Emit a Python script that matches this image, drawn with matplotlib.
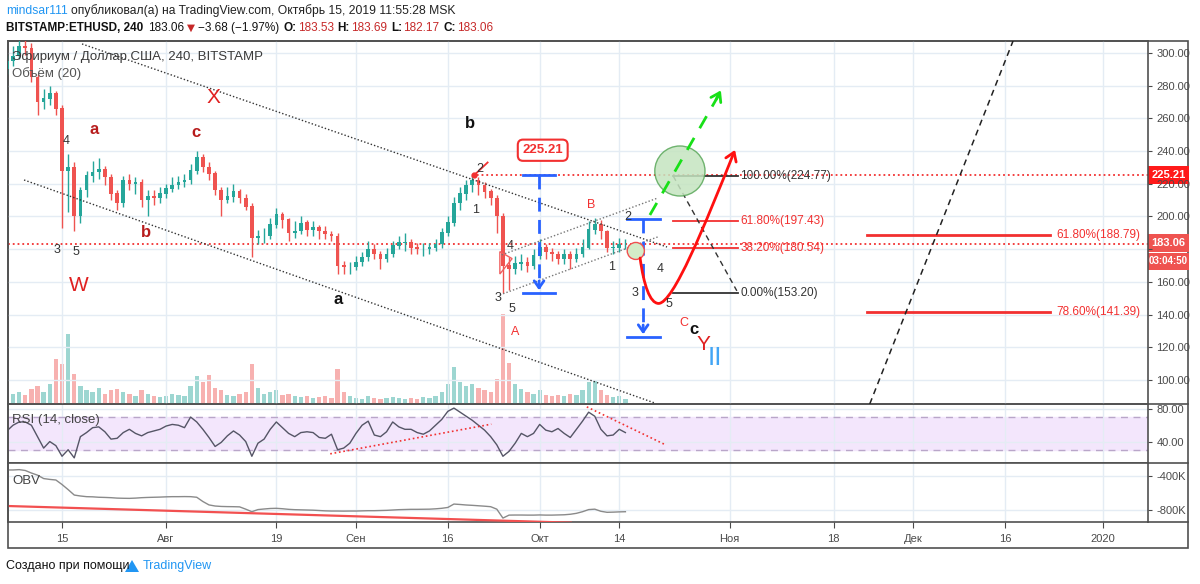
import numpy as np
import pandas as pd
import matplotlib
matplotlib.use('Agg')
import matplotlib.pyplot as plt
from matplotlib.patches import Ellipse, Rectangle, Polygon, FancyArrowPatch
from matplotlib.path import Path
from matplotlib.lines import Line2D

plt.rcParams['font.family'] = ['Liberation Sans', 'DejaVu Sans']

# ---- data (daily values) ----
ref_day = pd.Timestamp('2019-07-15')
first_day = pd.Timestamp('2019-07-06')
first_open = 290

closes = [295, 298, 304, 303, 285, 270, 272, 275, 266,
          228, 230, 200, 216, 225, 227, 229, 224, 214, 208,
          222, 220, 221, 210, 212, 211, 214, 217, 219, 221,
          222, 228, 236, 230, 226, 216, 210, 212, 215, 211,
          206, 187, 188, 188, 195, 201, 198, 190, 191, 196,
          192, 193, 191, 189, 188, 170, 169, 169, 172, 175,
          180, 177, 174, 177, 182, 184, 184, 181, 180, 180,
          181, 183, 190, 196, 208, 214, 219, 222, 219, 215,
          211, 200, 170, 168, 171, 172, 170, 176, 181, 178,
          177, 174, 177, 174, 177, 181, 192, 195, 191, 181,
          181, 183, 183.06]
highs = [299, 304, 310, 309, 306, 287, 278, 280, 277,
         268, 238, 233, 218, 228, 234, 236, 231, 226, 216,
         225, 226, 224, 223, 216, 216, 218, 220, 224, 225,
         226, 232, 240, 238, 233, 228, 218, 218, 220, 217,
         214, 208, 192, 193, 199, 205, 203, 199, 197, 200,
         198, 197, 195, 194, 191, 190, 173, 172, 176, 178,
         185, 183, 179, 181, 185, 188, 190, 186, 184, 184,
         184, 186, 193, 200, 212, 218, 222, 225.21, 224, 221,
         217, 213, 202, 175, 176, 177, 175, 180, 186, 183,
         181, 179, 180, 179, 181, 186, 197, 199, 198, 192,
         185, 187, 186]
lows = [287, 292, 296, 299, 282, 262, 266, 268, 262,
        193, 203, 191, 196, 212, 221, 223, 219, 210, 204,
        206, 216, 214, 206, 200, 207, 208, 211, 215, 217,
        218, 220, 226, 227, 222, 213, 200, 208, 209, 208,
        204, 175, 183, 184, 186, 193, 193, 185, 187, 189,
        188, 188, 186, 186, 185, 165, 165, 165, 167, 170,
        173, 174, 168, 172, 175, 180, 179, 177, 177, 176,
        177, 179, 181, 188, 194, 204, 210, 215, 213, 211,
        207, 190, 153, 155, 165, 167, 166, 168, 174, 174,
        173, 171, 171, 168, 172, 175, 180, 189, 186, 178,
        177, 178, 180]
volumes = [8, 10, 12, 9, 15, 18, 12, 20, 45,
           40, 70, 30, 18, 14, 12, 16, 10, 14, 15,
           12, 10, 8, 14, 10, 8, 7, 8, 10, 9,
           8, 18, 28, 22, 29, 16, 14, 9, 8, 10,
           12, 40, 16, 10, 12, 14, 9, 10, 8, 7,
           8, 6, 7, 8, 6, 35, 12, 8, 6, 5,
           8, 6, 5, 6, 7, 6, 5, 6, 5, 7,
           6, 8, 12, 20, 37, 22, 18, 20, 16, 14,
           12, 25, 90, 41, 20, 15, 12, 10, 14, 9,
           8, 9, 8, 10, 9, 14, 22, 24, 14, 9,
           7, 8, 5]
rsi = [53, 60, 64, 64, 60, 46, 32, 40, 35,
       22, 30, 20, 46, 51, 57, 58, 52, 43, 44,
       51, 55, 50, 47, 51, 53, 55, 59, 61, 60,
       57, 70, 64, 55, 45, 34, 39, 47, 53, 48,
       40, 22, 38, 43, 55, 64, 57, 50, 46, 51,
       52, 51, 45, 44, 49, 30, 32, 38, 50, 60,
       65, 48, 46, 52, 64, 58, 55, 55, 51, 49,
       53, 60, 67, 77, 81, 76, 71, 66, 60, 54,
       46, 36, 22, 28, 38, 50, 46, 50, 61, 54,
       52, 56, 50, 45, 55, 65, 76, 71, 55, 47,
       48, 55, 51]
obv = [-329, -329, -325, -335, -365, -390, -430, -440, -447,
       -500, -560, -624, -635, -643, -645, -650, -652, -655, -660,
       -662, -663, -660, -655, -652, -650, -648, -645, -643, -643,
       -642, -643, -650, -700, -740, -753, -758, -760, -761, -763,
       -790, -820, -795, -788, -782, -780, -785, -792, -796, -798,
       -800, -802, -806, -810, -812, -812, -813, -812, -812, -810,
       -808, -808, -806, -804, -800, -796, -794, -792, -792, -791,
       -790, -786, -780, -770, -730, -735, -741, -745, -750, -755,
       -761, -790, -895, -860, -859, -859, -860, -860, -858, -860,
       -860, -858, -856, -850, -839, -820, -795, -790, -815, -827,
       -825, -822, -820]

tick_dates = ['2019-07-15', '2019-08-01', '2019-08-19', '2019-09-01', '2019-09-16',
              '2019-10-01', '2019-10-14', '2019-11-01', '2019-11-18', '2019-12-01',
              '2019-12-16', '2020-01-01']
tick_labels = ['15', 'Авг', '19', 'Сен', '16', 'Окт', '14', 'Ноя', '18', 'Дек', '16', '2020']
price_ticks = [100, 120, 140, 160, 180, 200, 220, 240, 260, 280, 300]

last_price = 183.06
resist_price = 225.21
fib1_levels = [(224.77, '100.00%(224.77)', '#333333'), (197.43, '61.80%(197.43)', '#f23030'),
               (180.54, '38.20%(180.54)', '#f23030'), (153.20, '0.00%(153.20)', '#333333')]
fib2_levels = [(188.79, '61.80%(188.79)'), (141.39, '78.60%(141.39)')]

# ---- derived ----
offset = (first_day - ref_day).days
days = np.arange(len(closes)) + offset
opens = [first_open] + closes[:-1]
tick_pos = [(pd.Timestamp(t) - ref_day).days for t in tick_dates]

W, H = 1200, 584


def box(x0, y0, x1, y1):
    return [x0 / W, 1 - y1 / H, (x1 - x0) / W, (y1 - y0) / H]


def fx(x):
    return x / W


def fy(y):
    return 1 - y / H


fig = plt.figure(figsize=(12, 5.84), dpi=100)
fig.patch.set_facecolor('white')

ax = fig.add_axes(box(8, 41, 1148, 404))
ax_rsi = fig.add_axes(box(8, 404, 1148, 463), sharex=ax)
ax_obv = fig.add_axes(box(8, 463, 1148, 522), sharex=ax)

# volume pane behind the candles (twin made first, twinx moves ticks left)
ax_v = ax.twinx()

grid_c = '#e4ecf4'
frame_c = '#505050'
lab_c = '#4a4a4a'

ax.set_xlim(-8.82, 177.34)
ax.set_ylim(85.3, 307.3)
ax_rsi.set_ylim(13.75, 86.0)
ax_obv.set_ylim(-941, -247)

for a in (ax, ax_rsi, ax_obv):
    a.set_xticks(tick_pos)
    a.grid(True, color=grid_c, lw=1)
    a.set_axisbelow(True)
    for s in a.spines.values():
        s.set_color(frame_c)
        s.set_linewidth(1.2)
    a.yaxis.tick_right()
    a.yaxis.set_label_position('right')
    a.tick_params(axis='y', left=False, labelleft=False, right=True, labelright=True,
                  colors=lab_c, labelsize=8, length=3, pad=3)
    a.tick_params(axis='x', length=0, labelbottom=False)

ax.set_yticks(price_ticks)
# 180.00 sits under the last-price tag, as on the original
ax.set_yticklabels(['' if v == 180 else f'{v:.2f}' for v in price_ticks])
ax_rsi.set_yticks([40, 80])
ax_rsi.set_yticklabels(['40.00', '80.00'])
ax_obv.set_yticks([-800, -400])
ax_obv.set_yticklabels(['-800K', '-400K'])
ax_obv.tick_params(axis='x', length=4, labelbottom=True, colors=lab_c, labelsize=8, pad=5)
ax_obv.set_xticklabels(tick_labels)

ax_v.set_ylim(0, 363)
ax_v.set_yticks([])
for s in ax_v.spines.values():
    s.set_visible(False)
ax.set_zorder(ax_v.get_zorder() + 1)
ax.patch.set_visible(False)
up = np.array(closes) >= np.array(opens)
vcol = np.where(up, '#26a69a', '#ef5350')
ax_v.bar(days, volumes, width=0.7, color=vcol, alpha=0.45)

# ---- candles ----
ccol = np.where(up, '#26a69a', '#ef5350')
ax.vlines(days, lows, highs, colors=ccol, lw=1, zorder=3)
ax.bar(days, np.abs(np.array(closes) - np.array(opens)) + 0.3,
       bottom=np.minimum(opens, closes), width=0.6, color=ccol, zorder=4)

# ---- horizontal price lines ----
ax.axhline(last_price, color='#f23030', ls=':', lw=1.3, zorder=2)
ax.plot([67, 177.34], [resist_price, resist_price], color='#f23030', ls=':', lw=1.3, zorder=2)

# ---- channel / wedge lines ----
dotted = dict(color='#333333', ls=(0, (1, 1.5)), lw=1, zorder=5)
ax.plot([3.27, 98.8], [305.5, 181.3], **dotted)
ax.plot([-6.2, 96.8], [222.3, 85.9], **dotted)
wedge = dict(color='#777777', ls=(0, (1, 1.5)), lw=1, zorder=5)
ax.plot([71.8, 97.3], [176.5, 211.3], **wedge)
ax.plot([71.5, 97.3], [152.0, 187.5], **wedge)
ax.add_patch(Polygon([[71.5, 178.5], [73.5, 174.2], [71.5, 164.8]], closed=True,
                     fill=False, ec='#f06060', lw=1, zorder=5))

# ---- callout 225.21 ----
ax.plot([67.3, 69.5], [resist_price, 233.0], color='#f23030', lw=1.3, zorder=6)
ax.plot([67.3], [resist_price], 'o', color='#f23030', ms=3.5, zorder=6)
ax.annotate('225.21', xy=(78.5, 240.5), ha='center', va='center', fontsize=9.5,
            color='#f23030', fontweight='bold', zorder=7,
            bbox=dict(boxstyle='round,pad=0.35,rounding_size=0.4', fc='white', ec='#f23030', lw=1.5))

# ---- blue measure tools ----
blue = '#2962ff'
for (xa, xb, xm, top, bot) in [(75.3, 80.5, 77.9, 225.4, 153.2), (92.3, 97.6, 94.9, 198.5, 126.3)]:
    ax.plot([xa, xb], [top, top], color=blue, lw=2, zorder=6)
    ax.plot([xa, xb], [bot, bot], color=blue, lw=2, zorder=6)
    ax.plot([xm, xm], [top, bot + 3], color=blue, lw=2, ls=(0, (5, 3)), zorder=6)
    ax.annotate('', xy=(xm, bot), xytext=(xm, bot + 9),
                arrowprops=dict(arrowstyle='->,head_length=0.5,head_width=0.35', color=blue, lw=2),
                zorder=6)

# ---- fib retracement 1 ----
for lvl, txt, col in fib1_levels:
    ax.plot([99.8, 110.4], [lvl, lvl], color=col, lw=1.3, zorder=6)
    ax.text(110.8, lvl, txt, color=col, fontsize=8.5, va='center', ha='left', zorder=7)
ax.plot([99.8, 110.2], [224.77, 154.5], color='#333333', lw=1, ls=(0, (4, 3)), zorder=6)

# ---- fib retracement 2 ----
for lvl, txt in fib2_levels:
    ax.plot([131.4, 161.3], [lvl, lvl], color='#f23030', lw=2, zorder=6)
    ax.text(162.3, lvl, txt, color='#f23030', fontsize=8.5, va='center', ha='left', zorder=7)

# long dashed diagonal
ax.plot([131.9, 155.3], [85.3, 307.3], color='#222222', lw=1.1, ls=(0, (4, 3)), zorder=6)

# ---- circles ----
ax.add_patch(Ellipse((100.9, 227.8), 8.2, 30.6, fc='#c5e4c0', ec='#5aa85a', lw=1, alpha=0.85, zorder=7))
ax.add_patch(Ellipse((93.7, 178.9), 2.8, 10.4, fc='#d4ecc8', ec='#f05050', lw=1, zorder=7))

# ---- green dashed projection ----
ax.plot([96.0, 107.2], [200.9, 274.0], color='#18e018', lw=2, ls=(0, (5, 4)), zorder=8)
ax.annotate('', xy=(107.8, 278.6), xytext=(106.6, 270.0),
            arrowprops=dict(arrowstyle='->,head_length=0.6,head_width=0.4', color='#18e018', lw=2),
            zorder=8)

# ---- red curved projection ----
verts = [(94.4, 174.6), (95.0, 158.0), (96.0, 147.0), (97.4, 146.8),
         (99.8, 146.6), (105.0, 195.0), (109.9, 240.7)]
codes = [Path.MOVETO, Path.CURVE4, Path.CURVE4, Path.CURVE4,
         Path.CURVE4, Path.CURVE4, Path.CURVE4]
ax.add_patch(FancyArrowPatch(path=Path(verts, codes),
                             arrowstyle='->,head_length=6,head_width=4',
                             color='#ff1010', lw=2, zorder=8))

# ---- wave labels ----
labels = [
    ('X', 24.8, 272.5, '#e02020', 15, 'normal'),
    ('a', 5.2, 252.9, '#b71c1c', 12, 'bold'),
    ('c', 21.9, 251.1, '#b71c1c', 12, 'bold'),
    ('b', 13.7, 190.0, '#b71c1c', 12, 'bold'),
    ('W', 2.8, 158.0, '#e02020', 15, 'normal'),
    ('4', 0.65, 246.2, '#333333', 9, 'normal'),
    ('3', -0.9, 179.5, '#333333', 9, 'normal'),
    ('5', 2.3, 178.3, '#333333', 9, 'normal'),
    ('b', 66.6, 256.6, '#111111', 12, 'bold'),
    ('a', 45.1, 149.0, '#111111', 12, 'bold'),
    ('2', 68.3, 229.1, '#333333', 9, 'normal'),
    ('1', 67.6, 204.0, '#333333', 9, 'normal'),
    ('4', 73.2, 182.0, '#333333', 9, 'normal'),
    ('3', 71.2, 150.2, '#333333', 9, 'normal'),
    ('5', 73.5, 143.4, '#333333', 9, 'normal'),
    ('A', 74.0, 129.4, '#f23030', 9, 'normal'),
    ('B', 86.4, 207.0, '#f23030', 9, 'normal'),
    ('1', 89.8, 169.1, '#333333', 9, 'normal'),
    ('2', 92.4, 199.7, '#333333', 9, 'normal'),
    ('4', 97.6, 167.9, '#333333', 9, 'normal'),
    ('3', 93.6, 153.2, '#333333', 9, 'normal'),
    ('5', 99.1, 146.5, '#333333', 9, 'normal'),
    ('C', 101.6, 134.9, '#f23030', 9, 'normal'),
    ('c', 103.2, 130.6, '#111111', 12, 'bold'),
    ('Y', 104.8, 121.5, '#e02020', 15, 'normal'),
    ('II', 106.6, 113.5, '#42a5f5', 19, 'normal'),
]
for t, d, p, c, s, w in labels:
    ax.text(d, p, t, color=c, fontsize=s, fontweight=w, ha='center', va='center', zorder=9)

# ---- RSI ----
ax_rsi.axhspan(30, 70, color='#f3e6fc', zorder=0)
ax_rsi.axhline(70, color='#b9a6c9', lw=1, ls=(0, (5, 4)))
ax_rsi.axhline(30, color='#b9a6c9', lw=1, ls=(0, (5, 4)))
ax_rsi.plot(days, rsi, color='#555566', lw=1, zorder=3)
ax_rsi.plot([43.8, 70.1], [25.0, 61.3], color='#f23030', lw=1.2, ls=':', zorder=4)
ax_rsi.plot([85.7, 98.5], [82.5, 36.2], color='#f23030', lw=1.2, ls=':', zorder=4)

# ---- OBV ----
ax_obv.plot(days, obv, color='#8a8a8a', lw=1, zorder=3)
ax_obv.plot([-8.8, 83.1], [-753, -949], color='#f25050', lw=1.6, zorder=4)

# ---- pane titles ----
fig.text(fx(12), fy(57), 'Эфириум / Доллар США, 240, BITSTAMP', fontsize=9.5, color='#3a3a3a', va='center')
fig.text(fx(12), fy(74), 'Объём (20)', fontsize=9.5, color='#555555', va='center')
fig.text(fx(12), fy(420), 'RSI (14, close)', fontsize=9.5, color='#444444', va='center')
fig.text(fx(12), fy(481), 'OBV', fontsize=9.5, color='#444444', va='center')

# ---- frame around everything incl. price scale ----
fig.add_artist(Rectangle((fx(8), fy(548)), (1188 - 8) / W, (548 - 41) / H, transform=fig.transFigure,
                         fill=False, ec=frame_c, lw=1.2))
for yy in (404, 463, 522):
    fig.add_artist(Line2D([fx(1148), fx(1188)], [fy(yy), fy(yy)], transform=fig.transFigure,
                          color=frame_c, lw=1.2))


# ---- price tags ----
def tag(y0, y1, txt, col, size=8):
    fig.add_artist(Rectangle((fx(1148), fy(y1)), 41 / W, (y1 - y0) / H, transform=fig.transFigure,
                             fc=col, ec='none'))
    fig.text(fx(1168.5), fy((y0 + y1) / 2), txt, color='white', fontsize=size, fontweight='bold',
             ha='center', va='center')


tag(166, 184, '225.21', '#ff1a1a')
tag(234, 252, '183.06', '#ef5350')
tag(253, 270, '03:04:50', '#ef5350', size=7)

# ---- header: pieces placed one after another ----
renderer = fig.canvas.get_renderer()


def chain(x_px, y_px, pieces, size=9):
    x = x_px
    for txt, col, wt, gap in pieces:
        x += gap
        kw = dict(color=col, fontsize=size, fontweight=wt, va='center')
        if txt == '▼':
            kw['family'] = ['DejaVu Sans']
            kw['fontsize'] = size - 1
        t = fig.text(fx(x), fy(y_px), txt, **kw)
        x += t.get_window_extent(renderer).width


chain(6, 11, [('mindsar111', '#2196f3', 'normal', 0),
              ('опубликовал(а) на TradingView.com, Октябрь 15, 2019 11:55:28 MSK', '#222222', 'normal', 3)],
      size=8.7)
red_v = '#c62828'
chain(6, 28, [('BITSTAMP:ETHUSD, 240', '#111111', 'bold', 0),
              ('183.06', '#111111', 'normal', 5),
              ('▼', red_v, 'normal', 3),
              ('−3.68 (−1.97%)', '#111111', 'normal', 3),
              ('O:', '#111111', 'bold', 4), ('183.53', red_v, 'normal', 1),
              ('H:', '#111111', 'bold', 4), ('183.69', red_v, 'normal', 1),
              ('L:', '#111111', 'bold', 4), ('182.17', red_v, 'normal', 1),
              ('C:', '#111111', 'bold', 4), ('183.06', red_v, 'normal', 1)],
      size=8.5)

# ---- footer ----
fig.text(fx(6), fy(566), 'Создано при помощи', color='#111111', fontsize=9, va='center')
fig.add_artist(Polygon([[fx(125), fy(572)], [fx(132), fy(560)], [fx(139), fy(572)]], closed=True,
                       transform=fig.transFigure, fc='#2196f3', ec='none'))
fig.text(fx(143), fy(566), 'TradingView', color='#2196f3', fontsize=9, va='center')

fig.savefig('out.png', dpi=100)
